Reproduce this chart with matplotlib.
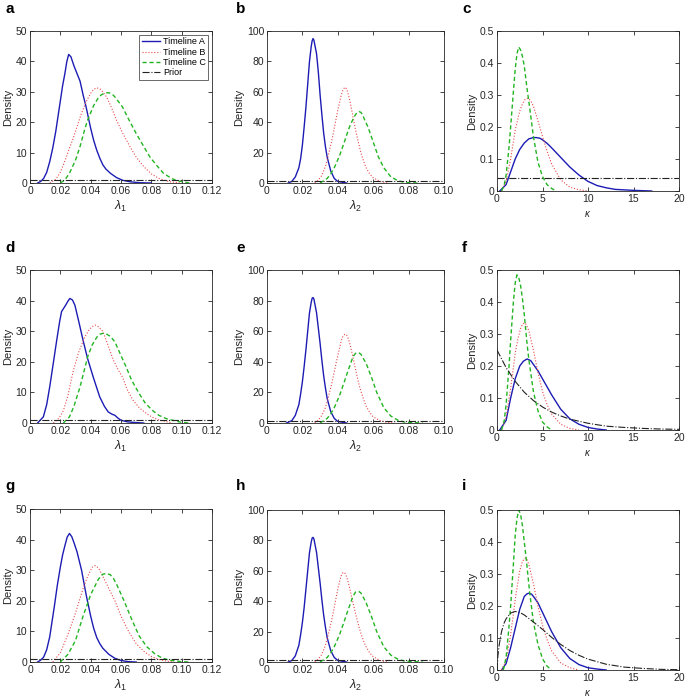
import matplotlib
matplotlib.use("Agg")
import matplotlib.pyplot as plt

plt.rcParams['font.family'] = ['Liberation Sans', 'DejaVu Sans']
plt.rcParams['mathtext.fontset'] = 'custom'
plt.rcParams['mathtext.rm'] = 'Liberation Sans'
plt.rcParams['mathtext.it'] = 'Liberation Sans:italic'

# ---- data: (x values, density values) ----
# panel a (lambda_1)
a_A = ([0.005, 0.007, 0.009, 0.011, 0.013, 0.015, 0.017, 0.0185, 0.020, 0.0215, 0.023, 0.0243, 0.0255, 0.027, 0.028, 0.029, 0.031, 0.033, 0.035, 0.037, 0.040, 0.042, 0.044, 0.046, 0.048, 0.050, 0.053, 0.057, 0.061, 0.066, 0.072, 0.080],
       [0, 0.5, 1.5, 3.5, 7, 11.5, 17, 22, 27, 32, 36, 40, 42.3, 41.5, 40, 38.5, 36, 33.5, 29, 25, 18, 14, 10.8, 8.2, 6, 4.6, 3.2, 1.8, 0.9, 0.4, 0.1, 0])
a_B = ([0.013, 0.017, 0.020, 0.022, 0.024, 0.026, 0.028, 0.031, 0.034, 0.037, 0.040, 0.042, 0.044, 0.046, 0.048, 0.0505, 0.054, 0.057, 0.061, 0.066, 0.070, 0.075, 0.080, 0.085, 0.092, 0.100],
       [0, 1.2, 3.5, 6, 8.6, 11.5, 14, 18.5, 23, 26.7, 29.5, 30.8, 31.3, 31, 30, 28.3, 24.5, 20.7, 16.5, 11.9, 8.5, 5.4, 3, 1.5, 0.4, 0])
a_C = ([0.020, 0.023, 0.026, 0.030, 0.033, 0.036, 0.038, 0.042, 0.045, 0.047, 0.049, 0.051, 0.0527, 0.0545, 0.056, 0.058, 0.061, 0.065, 0.070, 0.075, 0.079, 0.084, 0.088, 0.093, 0.0965, 0.105],
       [0, 1, 3.2, 7.5, 12, 17.5, 20.7, 25.5, 28, 29, 29.5, 29.7, 29.6, 29.1, 28.3, 27, 25, 21, 16.3, 12, 8.6, 5.5, 3.2, 1.6, 0.8, 0])
# panel b (lambda_2)
b_A = ([0.012, 0.014, 0.016, 0.018, 0.019, 0.020, 0.021, 0.022, 0.023, 0.024, 0.025, 0.0255, 0.026, 0.0265, 0.027, 0.028, 0.029, 0.030, 0.031, 0.032, 0.033, 0.034, 0.036, 0.038, 0.040, 0.045],
       [0, 1, 4, 10, 16, 25, 37, 50, 65, 80, 90, 93.5, 95, 94, 91, 85, 73, 58, 45, 33, 24, 17, 8, 3, 1, 0])
b_B = ([0.027, 0.029, 0.031, 0.033, 0.034, 0.036, 0.037, 0.039, 0.040, 0.041, 0.042, 0.043, 0.044, 0.045, 0.046, 0.047, 0.048, 0.050, 0.052, 0.053, 0.055, 0.056, 0.058, 0.060, 0.064, 0.068],
       [0, 2, 5, 11, 15, 25, 30, 42, 48, 53, 58, 61.5, 63, 62, 58, 53, 47, 35, 25, 20, 13, 10, 6, 3.5, 1, 0])
b_C = ([0.030, 0.034, 0.036, 0.038, 0.041, 0.044, 0.046, 0.047, 0.049, 0.050, 0.051, 0.052, 0.053, 0.054, 0.055, 0.057, 0.060, 0.063, 0.066, 0.070, 0.074, 0.078, 0.085],
       [0, 3, 6, 10, 18, 28, 35, 38, 43, 45, 46.5, 47, 46.5, 45, 42, 37, 27, 17, 10, 4, 1.5, 0.3, 0])
# panel c (kappa)
c_A = ([0.3, 1, 1.5, 2, 2.5, 3, 3.5, 4, 4.3, 4.7, 5, 5.5, 6, 7, 8, 9, 10, 11, 12, 13, 15, 17],
       [0, 0.02, 0.06, 0.1, 0.13, 0.15, 0.163, 0.167, 0.167, 0.165, 0.16, 0.149, 0.135, 0.105, 0.075, 0.05, 0.03, 0.017, 0.01, 0.005, 0.002, 0])
c_B = ([0.5, 1, 1.5, 2, 2.5, 2.8, 3.1, 3.4, 3.7, 4, 4.5, 5, 5.5, 6, 7, 8, 9, 10],
       [0, 0.03, 0.1, 0.19, 0.25, 0.273, 0.287, 0.29, 0.283, 0.265, 0.22, 0.17, 0.125, 0.085, 0.035, 0.012, 0.004, 0])
c_C = ([0.5, 0.8, 1, 1.3, 1.5, 1.8, 2, 2.2, 2.4, 2.6, 2.8, 3, 3.3, 3.5, 4, 4.5, 5, 5.5, 6, 6.5],
       [0, 0.02, 0.05, 0.13, 0.2, 0.31, 0.38, 0.43, 0.45, 0.44, 0.42, 0.39, 0.32, 0.28, 0.17, 0.09, 0.045, 0.02, 0.008, 0])
# panel d (lambda_1)
d_A = ([0.005, 0.0088, 0.011, 0.013, 0.0155, 0.0176, 0.0195, 0.0208, 0.0235, 0.025, 0.0263, 0.028, 0.0296, 0.032, 0.035, 0.038, 0.0417, 0.044, 0.046, 0.049, 0.0516, 0.054, 0.056, 0.058, 0.060, 0.064, 0.068, 0.075],
       [0, 2, 6, 11.8, 20, 27, 33, 36.4, 38.5, 39.8, 40.7, 40.2, 38.5, 33.5, 27, 21, 15, 11.5, 8.5, 5.5, 3.6, 2.9, 2.5, 1.6, 0.9, 0.4, 0.2, 0])
d_B = ([0.0154, 0.019, 0.022, 0.025, 0.0285, 0.032, 0.036, 0.039, 0.041, 0.043, 0.045, 0.048, 0.051, 0.055, 0.058, 0.061, 0.064, 0.068, 0.072, 0.077, 0.081, 0.0855, 0.094],
       [0, 1.5, 4, 9, 17, 23, 28, 30.5, 31.5, 32, 31.5, 30, 26, 20.5, 17.5, 15, 11, 7.4, 5, 3, 1.8, 0.9, 0])
d_C = ([0.022, 0.026, 0.029, 0.033, 0.038, 0.041, 0.044, 0.046, 0.048, 0.050, 0.053, 0.056, 0.060, 0.0634, 0.067, 0.072, 0.076, 0.081, 0.085, 0.090, 0.099, 0.105],
       [0, 2, 5.5, 11.8, 21.6, 25.5, 28, 29, 29.3, 29.2, 28.3, 26.5, 22, 18.3, 14, 9.6, 6.5, 4, 2.5, 1.4, 0.3, 0])
# panel e (lambda_2)
e_A = ([0.011, 0.014, 0.016, 0.018, 0.019, 0.020, 0.021, 0.022, 0.023, 0.024, 0.025, 0.0255, 0.026, 0.0265, 0.027, 0.028, 0.029, 0.030, 0.031, 0.032, 0.033, 0.034, 0.036, 0.038, 0.040, 0.045],
       [0, 1.5, 5, 12, 19, 27, 37, 48, 60, 72, 79, 81.5, 82, 81, 78, 72, 62, 52, 41, 31, 23, 16, 7.5, 3, 1, 0])
e_B = ([0.027, 0.029, 0.031, 0.033, 0.034, 0.036, 0.037, 0.039, 0.040, 0.041, 0.042, 0.043, 0.044, 0.045, 0.046, 0.047, 0.048, 0.050, 0.052, 0.053, 0.055, 0.056, 0.058, 0.060, 0.064, 0.068, 0.072],
       [0, 2, 5, 10, 14, 23, 28, 39, 44, 49, 54, 57, 58, 57.5, 55, 51, 46, 35, 25, 21, 14, 11, 7, 4, 1.5, 0.4, 0])
e_C = ([0.030, 0.034, 0.036, 0.038, 0.041, 0.044, 0.046, 0.047, 0.048, 0.049, 0.050, 0.051, 0.052, 0.053, 0.054, 0.056, 0.059, 0.062, 0.066, 0.070, 0.074, 0.078, 0.088],
       [0, 3, 6, 10, 18, 28, 35, 38, 41.5, 44, 45.5, 46, 45.8, 45, 43, 39, 30, 20, 10, 4.5, 1.8, 0.5, 0])
# panel f (kappa)
f_A = ([0.3, 1, 1.5, 2, 2.5, 2.9, 3.3, 3.7, 4, 4.5, 5, 5.5, 6, 7, 8, 9, 10, 11, 12],
       [0, 0.03, 0.1, 0.16, 0.2, 0.215, 0.222, 0.217, 0.205, 0.185, 0.16, 0.135, 0.11, 0.065, 0.035, 0.018, 0.008, 0.003, 0])
f_B = ([0.5, 1, 1.5, 2, 2.3, 2.6, 2.8, 3, 3.2, 3.5, 4, 4.5, 5, 5.5, 6, 7, 8, 9],
       [0, 0.04, 0.13, 0.24, 0.285, 0.318, 0.33, 0.335, 0.33, 0.31, 0.25, 0.18, 0.12, 0.08, 0.05, 0.018, 0.005, 0])
f_C = ([0.5, 0.8, 1, 1.3, 1.5, 1.8, 2, 2.2, 2.4, 2.6, 2.8, 3, 3.3, 3.5, 4, 4.5, 5, 5.5, 6],
       [0, 0.03, 0.08, 0.19, 0.28, 0.4, 0.46, 0.485, 0.475, 0.45, 0.41, 0.36, 0.27, 0.22, 0.12, 0.06, 0.025, 0.01, 0])
f_prior = ([0, 1, 2, 3, 4, 5, 6, 7, 8, 10, 12, 14, 16, 18, 20],
           [0.25, 0.195, 0.152, 0.118, 0.092, 0.072, 0.056, 0.044, 0.034, 0.021, 0.012, 0.008, 0.005, 0.003, 0.002])
# panel g (lambda_1)
g_A = ([0.005, 0.007, 0.009, 0.011, 0.013, 0.016, 0.018, 0.020, 0.0215, 0.023, 0.0245, 0.026, 0.0275, 0.029, 0.031, 0.034, 0.037, 0.040, 0.042, 0.044, 0.046, 0.048, 0.052, 0.056, 0.060, 0.065, 0.070],
       [0, 0.6, 1.6, 4, 8.2, 18, 25, 31, 35, 38, 40.8, 42, 41, 39, 36, 30, 22, 15, 11, 8, 6, 4.5, 2.5, 1.2, 0.5, 0.1, 0])
g_B = ([0.015, 0.020, 0.025, 0.030, 0.035, 0.038, 0.040, 0.0415, 0.043, 0.045, 0.047, 0.050, 0.052, 0.056, 0.060, 0.065, 0.070, 0.075, 0.080, 0.085, 0.090, 0.095],
       [0, 3, 9, 16, 24, 28, 30, 31.2, 31.5, 30.8, 29, 26, 24, 20, 15, 10, 6, 3.5, 1.8, 0.8, 0.3, 0])
g_C = ([0.020, 0.025, 0.030, 0.035, 0.040, 0.045, 0.048, 0.0505, 0.053, 0.055, 0.057, 0.062, 0.067, 0.072, 0.077, 0.082, 0.087, 0.092, 0.100, 0.105],
       [0, 2.5, 7, 15, 22, 27, 28.7, 28.9, 28.5, 27.3, 25.5, 20, 14, 8.5, 5, 2.8, 1.3, 0.6, 0.1, 0])
# panel h (lambda_2)
h_A = ([0.012, 0.014, 0.016, 0.018, 0.019, 0.020, 0.021, 0.022, 0.023, 0.024, 0.025, 0.0255, 0.026, 0.0265, 0.027, 0.028, 0.029, 0.030, 0.031, 0.032, 0.033, 0.034, 0.036, 0.038, 0.040, 0.045],
       [0, 1, 4, 11, 18, 26, 36, 48, 60, 72, 79, 81.5, 82, 81, 78, 72, 62, 52, 41, 31, 23, 16, 7.5, 3, 1, 0])
h_B = ([0.027, 0.029, 0.031, 0.033, 0.034, 0.036, 0.037, 0.039, 0.040, 0.041, 0.042, 0.043, 0.044, 0.045, 0.046, 0.047, 0.048, 0.050, 0.052, 0.053, 0.055, 0.056, 0.058, 0.060, 0.064, 0.068],
       [0, 2, 5, 11, 15, 25, 30, 42, 48, 53, 57, 59, 58.5, 56, 52, 47, 42, 32, 23, 19, 12.5, 10, 6, 3.5, 1, 0])
h_C = ([0.030, 0.034, 0.036, 0.038, 0.041, 0.044, 0.046, 0.047, 0.048, 0.049, 0.050, 0.051, 0.052, 0.053, 0.054, 0.056, 0.059, 0.062, 0.066, 0.070, 0.074, 0.078, 0.088],
       [0, 3, 6, 10, 18, 28, 35, 38, 41.5, 44, 46, 46.5, 46.3, 45.5, 43.5, 39, 30, 20, 10, 4.5, 1.8, 0.5, 0])
# panel i (kappa)
i_A = ([0.5, 1, 1.5, 2, 2.5, 3, 3.3, 3.5, 3.8, 4, 4.5, 5, 5.5, 6, 7, 8, 9, 10, 11, 12],
       [0, 0.02, 0.07, 0.13, 0.19, 0.23, 0.238, 0.24, 0.237, 0.23, 0.21, 0.18, 0.15, 0.12, 0.07, 0.036, 0.017, 0.007, 0.003, 0])
i_B = ([0.5, 1, 1.5, 2, 2.5, 2.8, 3.1, 3.3, 3.5, 4, 4.5, 5, 5.5, 6, 7, 8, 9],
       [0, 0.03, 0.11, 0.22, 0.31, 0.34, 0.35, 0.345, 0.33, 0.27, 0.2, 0.14, 0.095, 0.06, 0.022, 0.007, 0])
i_C = ([0.7, 1, 1.3, 1.5, 1.8, 2, 2.2, 2.4, 2.6, 2.8, 3, 3.2, 3.6, 4, 4.5, 5, 5.5, 6],
       [0, 0.04, 0.13, 0.2, 0.33, 0.42, 0.475, 0.5, 0.485, 0.45, 0.4, 0.35, 0.24, 0.15, 0.08, 0.035, 0.012, 0])
i_prior = ([0, 0.1, 0.25, 0.5, 0.75, 1, 1.5, 2, 2.5, 3, 4, 5, 6, 7, 8, 9, 10, 12, 14, 16, 18, 20],
           [0, 0.045, 0.08, 0.12, 0.145, 0.16, 0.178, 0.183, 0.18, 0.172, 0.15, 0.127, 0.102, 0.08, 0.061, 0.046, 0.034, 0.018, 0.009, 0.005, 0.002, 0.001])

lam1_prior = ([0, 0.12], [1, 1])
lam2_prior = ([0, 0.10], [1, 1])
kappa_flat_prior = ([0, 20], [0.04, 0.04])

lam1_ticks = [0, 0.02, 0.04, 0.06, 0.08, 0.10, 0.12]
lam1_labels = ['0', '0.02', '0.04', '0.06', '0.08', '0.10', '0.12']
lam2_ticks = [0, 0.02, 0.04, 0.06, 0.08, 0.10]
lam2_labels = ['0', '0.02', '0.04', '0.06', '0.08', '0.10']
kappa_ticks = [0, 5, 10, 15, 20]
kappa_labels = ['0', '5', '10', '15', '20']
dens1_ticks = [0, 10, 20, 30, 40, 50]
dens2_ticks = [0, 20, 40, 60, 80, 100]
dens3_ticks = [0, 0.1, 0.2, 0.3, 0.4, 0.5]
dens3_labels = ['0', '0.1', '0.2', '0.3', '0.4', '0.5']

W, H = 685, 698
fig = plt.figure(figsize=(W / 100, H / 100), dpi=100)

# pixel boxes: left, right, top, bottom
boxes = {
    'a': (30, 212, 31, 183), 'b': (267, 444, 31, 183), 'c': (497, 679, 31, 191),
    'd': (30, 212, 270, 423), 'e': (267, 444, 270, 423), 'f': (497, 679, 270, 430),
    'g': (30, 212, 509, 662), 'h': (267, 444, 510, 662), 'i': (497, 679, 510, 670),
}
letter_pos = {'a': (5, 9), 'b': (236, 9), 'c': (462, 9),
              'd': (5, 248), 'e': (236, 248), 'f': (462, 248),
              'g': (5, 486), 'h': (236, 486), 'i': (462, 486)}

panels = {
    'a': (a_A, a_B, a_C, lam1_prior, 'lam1'),
    'b': (b_A, b_B, b_C, lam2_prior, 'lam2'),
    'c': (c_A, c_B, c_C, kappa_flat_prior, 'kappa'),
    'd': (d_A, d_B, d_C, lam1_prior, 'lam1'),
    'e': (e_A, e_B, e_C, lam2_prior, 'lam2'),
    'f': (f_A, f_B, f_C, f_prior, 'kappa'),
    'g': (g_A, g_B, g_C, lam1_prior, 'lam1'),
    'h': (h_A, h_B, h_C, lam2_prior, 'lam2'),
    'i': (i_A, i_B, i_C, i_prior, 'kappa'),
}

tc = '#262626'
for key, (A, B, C, P, kind) in panels.items():
    l, r, t, b = boxes[key]
    ax = fig.add_axes([l / W, 1 - b / H, (r - l) / W, (b - t) / H])
    ax.plot(A[0], A[1], color='#1c1cb4', lw=1.0, ls='-', label='Timeline A', solid_joinstyle='round')
    ax.plot(B[0], B[1], color='#e8484a', lw=0.8, ls=':', label='Timeline B')
    ax.plot(C[0], C[1], color='#22b422', lw=1.0, ls='--', dashes=(3, 2), label='Timeline C')
    ax.plot(P[0], P[1], color='#222222', lw=0.8, ls='-.', label='Prior')
    if kind == 'lam1':
        ax.set_xlim(0, 0.12); ax.set_ylim(0, 50)
        ax.set_xticks(lam1_ticks, lam1_labels)
        ax.set_yticks(dens1_ticks)
        ax.set_xlabel(r'$\lambda_1$', fontsize=9, color=tc, labelpad=2)
    elif kind == 'lam2':
        ax.set_xlim(0, 0.10); ax.set_ylim(0, 100)
        ax.set_xticks(lam2_ticks, lam2_labels)
        ax.set_yticks(dens2_ticks)
        ax.set_xlabel(r'$\lambda_2$', fontsize=9, color=tc, labelpad=2)
    else:
        ax.set_xlim(0, 20); ax.set_ylim(0, 0.5)
        ax.set_xticks(kappa_ticks, kappa_labels)
        ax.set_yticks(dens3_ticks, dens3_labels)
        ax.set_xlabel(r'$\kappa$', fontsize=7, color=tc, labelpad=4)
    ax.set_ylabel('Density', fontsize=8, color=tc, labelpad=2)
    ax.tick_params(direction='in', top=True, right=True, length=3, width=0.6,
                   labelsize=7.5, colors=tc, pad=2)
    for s in ax.spines.values():
        s.set_linewidth(0.6)
        s.set_color(tc)
    lx, ly = letter_pos[key]
    fig.text(lx / W, 1 - ly / H, key, fontsize=11, fontweight='bold', va='center', ha='left')
    if key == 'a':
        leg = ax.legend(loc='upper right', fontsize=6.5, frameon=True, fancybox=False,
                        borderpad=0.3, labelspacing=0.15, handlelength=2.0,
                        handletextpad=0.3, borderaxespad=0.4)
        leg.get_frame().set_edgecolor(tc)
        leg.get_frame().set_linewidth(0.6)

fig.savefig('out.png', dpi=100)
